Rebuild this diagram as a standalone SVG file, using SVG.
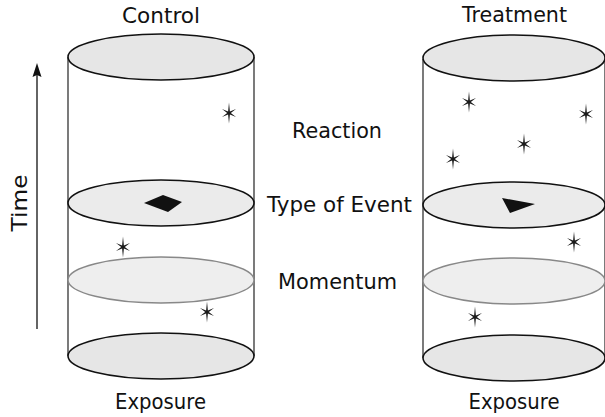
<svg xmlns="http://www.w3.org/2000/svg" xmlns:xlink="http://www.w3.org/1999/xlink" width="605" height="417" viewBox="0 0 605 417">
<style>
text{font-family:"DejaVu Sans",Verdana,sans-serif;font-size:20.8px;fill:#111}
.side{stroke:#222;stroke-width:1.2;fill:none}
.disk{fill:#e6e6e6;stroke:#111;stroke-width:1.6}
.mid{fill:#ebebeb;stroke:#111;stroke-width:1.6}
.mom{fill:#eeeeee;stroke:#888;stroke-width:1.4}
.star{fill:#1a1a1a}
</style>
<defs>
<path id="star" d="M0,-10.5 L0.9,-1.6 L7,-4 L1.8,0 L7,4 L0.9,1.6 L0,10.5 L-0.9,1.6 L-7,4 L-1.8,0 L-7,-4 L-0.9,-1.6 Z"/>
</defs>
<rect width="605" height="417" fill="#fff"/>
<g id="time-axis">
<line x1="37" y1="329" x2="37" y2="74" stroke="#111" stroke-width="1.3"/>
<polygon points="37,63 41.5,77 37,75 32.5,77" fill="#111"/>
<text transform="translate(27,203) rotate(-90)" text-anchor="middle" textLength="57" lengthAdjust="spacingAndGlyphs">Time</text>
</g>
<g id="control">
<line class="side" x1="68" y1="57" x2="68" y2="356"/>
<line class="side" x1="254" y1="57" x2="254" y2="356"/>
<ellipse class="disk" cx="161" cy="356" rx="93" ry="23"/>
<ellipse class="mom" cx="161" cy="280" rx="93" ry="23"/>
<ellipse class="mid" cx="161" cy="203" rx="93" ry="23"/>
<ellipse class="disk" cx="161" cy="57" rx="93" ry="23"/>
<polygon points="144,203 163,195 182,202 168,212" fill="#111"/>
<use href="#star" class="star" x="229" y="113"/>
<use href="#star" class="star" x="123" y="247"/>
<use href="#star" class="star" x="207" y="312"/>
<text x="161" y="23" text-anchor="middle" textLength="78" lengthAdjust="spacingAndGlyphs">Control</text>
<text x="160.5" y="409" text-anchor="middle" textLength="91" lengthAdjust="spacingAndGlyphs">Exposure</text>
</g>
<g id="treatment">
<line class="side" x1="423" y1="59" x2="423" y2="358"/>
<line class="side" x1="605" y1="59" x2="605" y2="358"/>
<ellipse class="disk" cx="514" cy="358" rx="91" ry="23"/>
<ellipse class="mom" cx="514" cy="281" rx="91" ry="23"/>
<ellipse class="mid" cx="514" cy="205" rx="91" ry="23"/>
<ellipse class="disk" cx="514" cy="58" rx="91" ry="23"/>
<polygon points="502,198 535,204 510,213" fill="#111"/>
<use href="#star" class="star" x="469" y="102"/>
<use href="#star" class="star" x="586" y="114"/>
<use href="#star" class="star" x="524" y="144"/>
<use href="#star" class="star" x="453" y="159"/>
<use href="#star" class="star" x="574" y="242"/>
<use href="#star" class="star" x="475" y="317"/>
<text x="514.5" y="22" text-anchor="middle" textLength="105" lengthAdjust="spacingAndGlyphs">Treatment</text>
<text x="514" y="409" text-anchor="middle" textLength="91" lengthAdjust="spacingAndGlyphs">Exposure</text>
</g>
<g id="labels">
<text x="337" y="138" text-anchor="middle" textLength="90" lengthAdjust="spacingAndGlyphs">Reaction</text>
<text x="339.5" y="212" text-anchor="middle" textLength="145" lengthAdjust="spacingAndGlyphs">Type of Event</text>
<text x="337.5" y="289" text-anchor="middle" textLength="119" lengthAdjust="spacingAndGlyphs">Momentum</text>
</g>
</svg>
